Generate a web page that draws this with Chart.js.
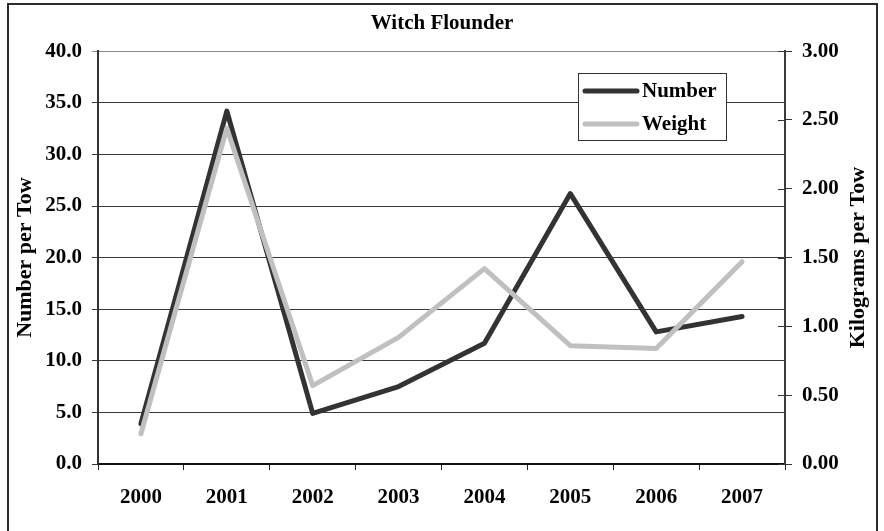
<!DOCTYPE html>
<html>
<head>
<meta charset="utf-8">
<script src="https://cdn.jsdelivr.net/npm/chart.js@4.4.0/dist/chart.umd.min.js"></script>
<style>
  html, body { margin: 0; padding: 0; background: #fff; }
  #wrap { width: 884px; height: 531px; }
</style>
</head>
<body>
<div id="wrap"><canvas id="chart" width="884" height="531"></canvas></div>
<script>
// Survey values
const years = ['2000', '2001', '2002', '2003', '2004', '2005', '2006', '2007'];
const numberPerTow = [3.9, 34.2, 4.9, 7.5, 11.7, 26.2, 12.8, 14.3];
const kgPerTow = [0.22, 2.44, 0.57, 0.92, 1.42, 0.86, 0.84, 1.47];

const leftTicks = [0, 5, 10, 15, 20, 25, 30, 35, 40];
const rightTicks = [0, 0.5, 1, 1.5, 2, 2.5, 3];
const rightTitle = 'Kilograms per Tow';

const FONT = '"Liberation Serif", "Times New Roman", serif';
const SIZE = 21;
const TITLE_SIZE = 22;

Chart.defaults.font.family = FONT;
Chart.defaults.font.weight = 'bold';
Chart.defaults.font.size = SIZE;
Chart.defaults.color = '#000';

/**
 * Page frame, right axis title (reads bottom-up like the left one),
 * inner halves of the right-axis ticks and the boxed legend.
 */
const framePlugin = {
  id: 'frame',
  beforeDraw(chart) {
    const c = chart.ctx;
    c.save();
    c.fillStyle = '#fff';
    c.fillRect(0, 0, chart.width, chart.height);
    c.strokeStyle = '#2b2b2b';
    c.lineWidth = 2;
    c.strokeRect(8, 4, 869, 560);
    c.restore();
  },
  afterDraw(chart) {
    const c = chart.ctx;
    const s = chart.scales.y1;
    const area = chart.chartArea;
    c.save();
    c.strokeStyle = '#333';
    c.lineWidth = 1;
    s.ticks.forEach(t => {
      const y = Math.round(s.getPixelForValue(t.value)) + 0.5;
      c.beginPath();
      c.moveTo(s.left - 7, y);
      c.lineTo(s.left, y);
      c.stroke();
    });

    // right axis title
    c.save();
    c.translate(858, (area.top + area.bottom) / 2);
    c.rotate(-Math.PI / 2);
    c.font = 'bold ' + TITLE_SIZE + 'px ' + FONT;
    c.fillStyle = '#000';
    c.textAlign = 'center';
    c.textBaseline = 'middle';
    c.fillText(rightTitle, 0, 0);
    c.restore();

    // legend box
    const box = { x: 578, y: 73, w: 148, h: 67 };
    c.fillStyle = '#fff';
    c.fillRect(box.x, box.y, box.w, box.h);
    c.strokeStyle = '#333';
    c.lineWidth = 1;
    c.strokeRect(box.x + 0.5, box.y + 0.5, box.w, box.h);
    c.font = 'bold ' + SIZE + 'px ' + FONT;
    c.textBaseline = 'middle';
    c.textAlign = 'left';
    chart.data.datasets.forEach((ds, i) => {
      const y = box.y + 18 + i * 33;
      c.strokeStyle = ds.borderColor;
      c.lineWidth = 5;
      c.lineCap = 'round';
      c.beginPath();
      c.moveTo(585, y);
      c.lineTo(637, y);
      c.stroke();
      c.fillStyle = '#000';
      c.fillText(ds.label, 642, y + 1);
    });
    c.restore();
  },
};

const chart = new Chart(document.getElementById('chart').getContext('2d'), {
  type: 'line',
  data: {
    labels: years,
    datasets: [
      {
        label: 'Number',
        data: numberPerTow,
        yAxisID: 'y',
        borderColor: '#333333',
        borderWidth: 5,
        borderCapStyle: 'round',
        borderJoinStyle: 'round',
        tension: 0,
        pointRadius: 0,
        order: 1,
      },
      {
        label: 'Weight',
        data: kgPerTow,
        yAxisID: 'y1',
        borderColor: '#c0c0c0',
        borderWidth: 5,
        borderCapStyle: 'round',
        borderJoinStyle: 'round',
        tension: 0,
        pointRadius: 0,
        order: 0,
      },
    ],
  },
  options: {
    responsive: false,
    animation: false,
    devicePixelRatio: 1,
    layout: { padding: 0 },
    plugins: {
      legend: { display: false },
      tooltip: { enabled: false },
      title: {
        display: true,
        text: 'Witch Flounder',
        color: '#000',
        font: { size: SIZE, weight: 'bold' },
        padding: { top: 11, bottom: 15 },
      },
    },
    scales: {
      x: {
        type: 'category',
        offset: true,
        grid: {
          offset: true,
          drawOnChartArea: false,
          color: '#222',
          tickLength: 6,
        },
        border: { display: true, color: '#111', width: 2 },
        ticks: { padding: 15, color: '#000', maxRotation: 0 },
        afterFit(scale) { scale.height = 67; },
      },
      y: {
        position: 'left',
        min: 0,
        max: 40,
        afterBuildTicks(scale) { scale.ticks = leftTicks.map(v => ({ value: v })); },
        grid: {
          color: ctx => (ctx.tick && ctx.tick.value === 40 ? '#8c8c8c' : '#3a3a3a'),
          lineWidth: 1,
          tickLength: 6,
        },
        border: { display: true, color: '#333', width: 2 },
        ticks: { padding: 10, color: '#000', callback: v => Number(v).toFixed(1) },
        title: {
          display: true,
          text: 'Number per Tow',
          color: '#000',
          font: { size: TITLE_SIZE, weight: 'bold' },
          padding: { top: 12, bottom: 0 },
        },
        afterFit(scale) { scale.width = 98; },
      },
      y1: {
        position: 'right',
        min: 0,
        max: 3,
        afterBuildTicks(scale) { scale.ticks = rightTicks.map(v => ({ value: v })); },
        grid: { drawOnChartArea: false, color: '#333', tickLength: 7 },
        border: { display: true, color: '#3a3a3a', width: 2 },
        ticks: { padding: 10, color: '#000', callback: v => Number(v).toFixed(2) },
        afterFit(scale) { scale.width = 99; },
      },
    },
  },
  plugins: [framePlugin],
});
</script>
</body>
</html>
